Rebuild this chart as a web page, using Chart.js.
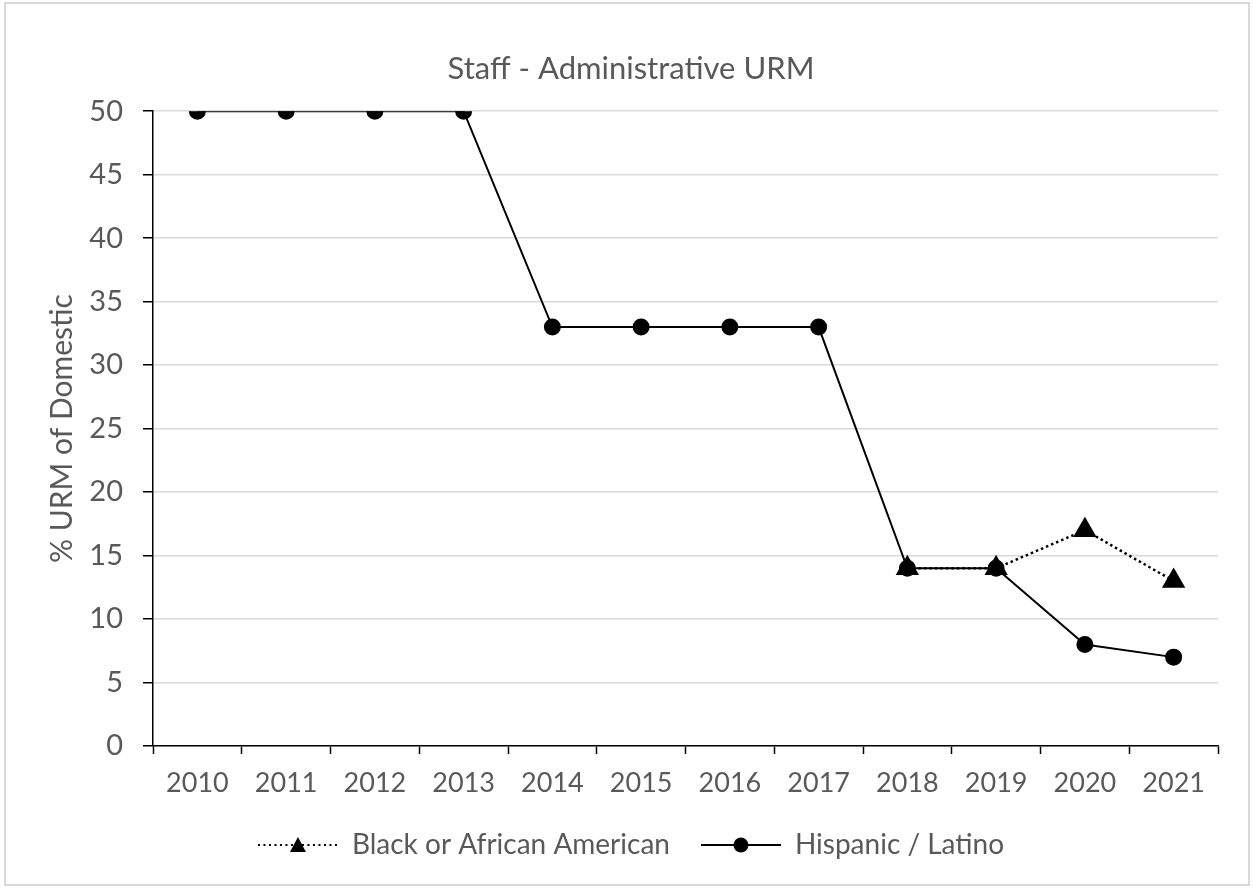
<!DOCTYPE html>
<html>
<head>
<meta charset="utf-8">
<script src="https://cdn.jsdelivr.net/npm/chart.js@4"></script>
<style>
  html, body { margin: 0; padding: 0; background: #fff; }
  #wrap { width: 1254px; height: 888px; position: relative; }
</style>
</head>
<body>
<div id="wrap"><canvas id="grafica"></canvas></div>
<script>
// data
const years = ['2010', '2011', '2012', '2013', '2014', '2015', '2016', '2017', '2018', '2019', '2020', '2021']
const black = [null, null, null, null, null, null, null, null, 14, 14, 17, 13]
const hispanic = [50, 50, 50, 50, 33, 33, 33, 33, 14, 14, 8, 7]

const gris = '#595959'
Chart.defaults.font.family = 'Lato'
Chart.defaults.color = gris

// legend symbols: line with marker in the middle
function legendIcon(dotted) {
  const c = document.createElement('canvas')
  c.width = 80
  c.height = 24
  const g = c.getContext('2d')
  g.strokeStyle = '#000'
  g.fillStyle = '#000'
  g.lineWidth = 2
  g.beginPath()
  if (dotted) {
    g.setLineDash([2, 3.5])
    g.moveTo(0, 12)
    g.lineTo(80, 12)
    g.stroke()
    g.setLineDash([])
    g.beginPath()
    g.moveTo(40, 4)
    g.lineTo(48, 19)
    g.lineTo(32, 19)
    g.closePath()
    g.fill()
  } else {
    g.moveTo(0, 12)
    g.lineTo(80, 12)
    g.stroke()
    g.beginPath()
    g.arc(40, 12, 7.5, 0, Math.PI * 2)
    g.fill()
  }
  return c
}
const iconos = [legendIcon(true), legendIcon(false)]

const marco = {
  id: 'marco',
  beforeDraw(chart) {
    const c = chart.ctx
    c.save()
    c.fillStyle = '#fff'
    c.fillRect(0, 0, chart.width, chart.height)
    c.strokeStyle = '#d9d9d9'
    c.lineWidth = 2
    c.strokeRect(5, 3, 1244, 882)
    c.restore()
  }
}

const ctx = document.getElementById('grafica')
new Chart(ctx, {
  type: 'line',
  data: {
    labels: years,
    datasets: [{
      label: 'Black or African American',
      data: black,
      borderColor: '#000',
      backgroundColor: '#000',
      borderWidth: 2.5,
      borderDash: [2.5, 3],
      pointStyle: 'triangle',
      pointRadius: 11,
      pointHoverRadius: 11,
      tension: 0
    }, {
      label: 'Hispanic / Latino',
      data: hispanic,
      borderColor: '#000',
      backgroundColor: '#000',
      borderWidth: 2,
      pointStyle: 'circle',
      pointRadius: 7.5,
      pointHoverRadius: 7.5,
      tension: 0
    }]
  },
  options: {
    responsive: true,
    maintainAspectRatio: false,
    animation: false,
    layout: {
      padding: { top: 20, left: 44, right: 36, bottom: 19 }
    },
    scales: {
      x: {
        offset: true,
        grid: {
          offset: true,
          drawOnChartArea: false,
          tickColor: '#000',
          tickLength: 8,
          tickWidth: 1.5
        },
        border: { color: '#000', width: 1.5 },
        ticks: { color: gris, font: { size: 27 }, padding: 13, maxRotation: 0 },
        afterFit(scale) { scale.height = 54 }
      },
      y: {
        min: 0,
        max: 50,
        ticks: { stepSize: 5, color: gris, font: { size: 29 }, padding: 20 },
        grid: {
          color: '#d9d9d9',
          lineWidth: 1.5,
          tickColor: '#000',
          tickLength: 10,
          tickWidth: 1.5
        },
        border: { color: '#000', width: 1.5 },
        title: {
          display: true,
          text: '% URM of Domestic',
          color: gris,
          font: { size: 30 },
          padding: { top: 0, bottom: 0 }
        },
        afterFit(scale) { scale.width = 109 }
      }
    },
    plugins: {
      title: {
        display: true,
        text: 'Staff - Administrative URM',
        color: gris,
        font: { size: 31, weight: 'normal' },
        padding: { top: 30, bottom: 24 }
      },
      legend: {
        position: 'bottom',
        labels: {
          usePointStyle: true,
          pointStyleWidth: 80,
          padding: 31,
          color: gris,
          font: { size: 28 },
          generateLabels(chart) {
            const items = Chart.defaults.plugins.legend.labels.generateLabels(chart)
            items.forEach((it, i) => { it.pointStyle = iconos[i] })
            return items
          }
        }
      },
      tooltip: { enabled: false }
    }
  },
  plugins: [marco]
})
</script>
</body>
</html>
